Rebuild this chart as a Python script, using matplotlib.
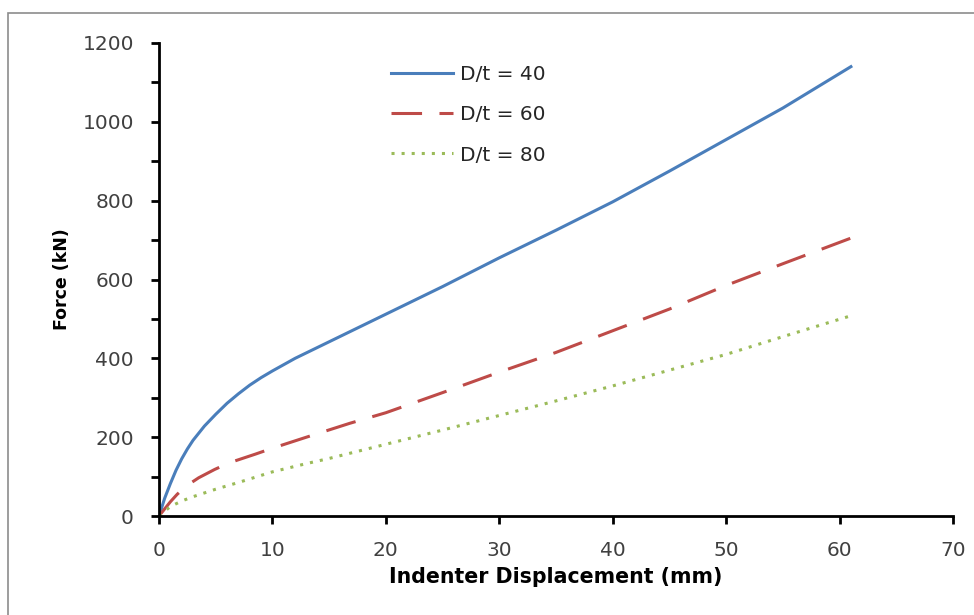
import matplotlib.pyplot as plt
from matplotlib.patches import Rectangle

# valores
x40 = [0, 0.5, 1, 1.5, 2, 2.5, 3, 4, 5, 6, 7, 8, 9, 10, 12, 15, 17, 20, 25, 30, 35, 40, 45, 50, 55, 61]
f40 = [0, 45, 82, 116, 145, 170, 192, 228, 258, 286, 310, 332, 351, 368, 400, 442, 470, 512, 582, 655, 725, 797, 875, 955, 1035, 1140]

x60 = [0, 1, 1.6, 2.4, 3.5, 4.9, 6.2, 8.5, 10, 13, 16.8, 20, 25, 30, 35, 40, 45, 50, 55, 61]
f60 = [0, 36, 55, 76, 97, 118, 135, 157, 172, 200, 235, 262, 313, 365, 415, 470, 525, 585, 640, 705]

x80 = [0, 1, 2, 3, 5, 7, 10, 13, 15, 20, 25, 30, 35, 40, 45, 50, 55, 61]
f80 = [0, 24, 38, 49, 68, 85, 112, 133, 146, 182, 218, 255, 292, 330, 370, 410, 455, 508]

etiquetas = ['D/t = 40', 'D/t = 60', 'D/t = 80']

plt.rcParams['font.family'] = 'DejaVu Sans'
fig = plt.figure(figsize=(9.74, 6.15), dpi=100)

# marco gris alrededor de la figura
fig.patches.append(Rectangle((8 / 974, -0.1), 1.2, 1.1 - 13 / 615,
                             transform=fig.transFigure, fill=False,
                             edgecolor='#8c8c8c', linewidth=1.2))

ax = fig.add_axes([159 / 974, 99 / 615, 794 / 974, 473 / 615])

ax.plot(x40, f40, color='#4A7EBB', lw=2.2, label=etiquetas[0])
ax.plot(x60, f60, color='#BE4B48', lw=2.2, dashes=(10, 5.7), label=etiquetas[1])
ax.plot(x80, f80, color='#9BBB59', lw=2.2, dashes=(1, 2.3), label=etiquetas[2])

ax.set_xlim(0, 70)
ax.set_ylim(0, 1200)
ax.set_xticks(range(0, 71, 10))
ax.set_yticks(range(0, 1201, 200))
ax.set_yticks(range(100, 1200, 200), minor=True)

for lado in ['top', 'right']:
    ax.spines[lado].set_visible(False)
for lado in ['left', 'bottom']:
    ax.spines[lado].set_linewidth(2)

ax.tick_params(axis='both', which='both', direction='out', length=6, width=2,
               labelsize=14.5, labelcolor='#404040')
ax.tick_params(axis='y', pad=12)
ax.tick_params(axis='x', pad=12)

ax.set_xlabel('Indenter Displacement (mm)', fontsize=14.8, fontweight='bold', labelpad=5)
ax.set_ylabel('Force (kN)', fontsize=12.5, fontweight='bold', labelpad=8)

ax.legend(loc='upper left', bbox_to_anchor=(0.292, 0.953), frameon=False,
          borderpad=0, borderaxespad=0,
          fontsize=14.5, handlelength=3.1, handletextpad=0.35, labelspacing=1.05,
          labelcolor='#262626')

fig.savefig('out.png', dpi=100)
